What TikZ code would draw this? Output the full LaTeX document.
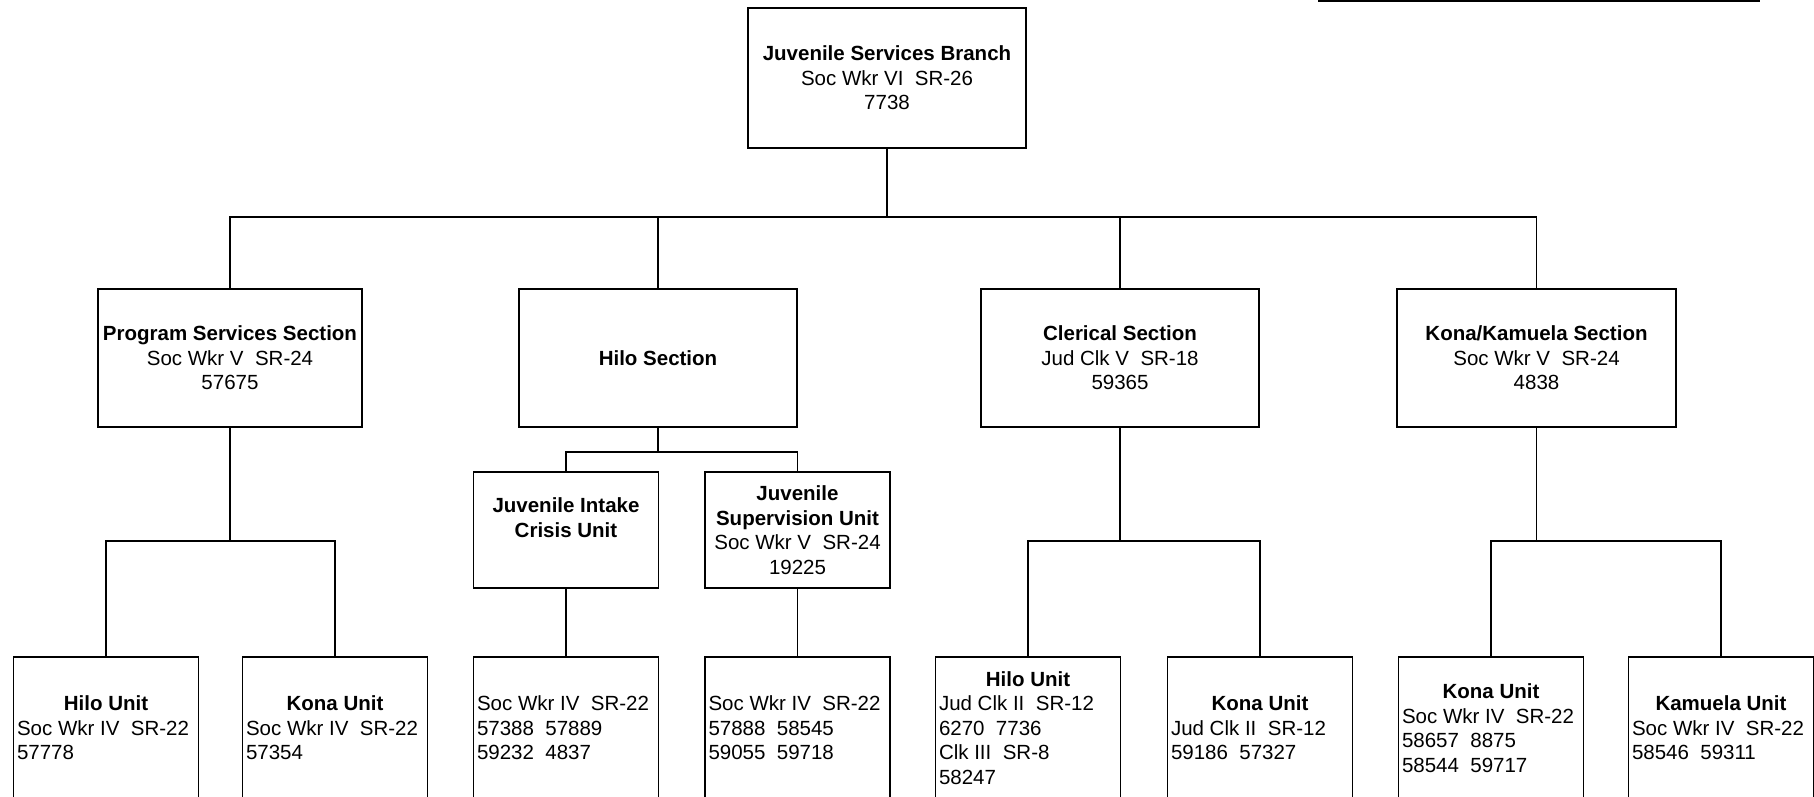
\documentclass[tikz,border=0pt]{standalone}
\usepackage{fontspec}
\setmainfont{Liberation Sans}
% centred bold heading / left-set first line inside a unit box
\newcommand\unittitle[1]{\makebox[178pt]{\bfseries #1}}
\newcommand\unitfirst[1]{\makebox[178pt][l]{#1}}
\begin{document}
\begin{tikzpicture}[x=1pt,y=-1pt,
  box/.style={draw=black, line width=1.5pt, inner sep=0pt, align=center,
              font=\fontsize{20.5}{24.5}\selectfont},
  section/.style={box, minimum width=278pt, minimum height=138pt},
  subunit/.style={box, minimum width=185pt, minimum height=116pt},
  unit/.style={box, align=left, minimum width=185pt, minimum height=142pt},
  link/.style={draw=black, line width=1.5pt},
]
\useasboundingbox (0,0) rectangle (1814,797);

% bus levels
\coordinate (busA) at (0,217);
\coordinate (busB) at (0,541);
\coordinate (busH) at (0,452);

% branch head
\node[box, minimum width=278pt, minimum height=140pt] (jsb) at (887,78)
  {\textbf{Juvenile Services Branch}\\Soc Wkr VI~~SR-26\\7738};

% sections
\node[section, minimum width=264pt] (ps) at (230,358)
  {\textbf{Program Services Section}\\Soc Wkr V~~SR-24\\57675};
\node[section] (hs) at (658,358) {\textbf{Hilo Section}};
\node[section] (cs) at (1120,358)
  {\textbf{Clerical Section}\\Jud Clk V~~SR-18\\59365};
\node[section, minimum width=279pt] (ks) at (1536.5,358)
  {\textbf{Kona/Kamuela Section}\\Soc Wkr V~~SR-24\\4838};

% Hilo section units
\node[subunit] (ji) at (566,530)
  {\textbf{Juvenile Intake}\\\textbf{Crisis Unit}\\\mbox{}};
\node[subunit] (jsu) at (797.5,530)
  {\textbf{Juvenile}\\\textbf{Supervision Unit}\\Soc Wkr V~~SR-24\\19225};

% units
\node[unit] (u1) at (106,728)
  {\unittitle{Hilo Unit}\\Soc Wkr IV~~SR-22\\57778};
\node[unit] (u2) at (335,728)
  {\unittitle{Kona Unit}\\Soc Wkr IV~~SR-22\\57354};
\node[unit] (u3) at (566,728)
  {\unitfirst{Soc Wkr IV~~SR-22}\\57388~~57889\\59232~~4837};
\node[unit] (u4) at (797.5,728)
  {\unitfirst{Soc Wkr IV~~SR-22}\\57888~~58545\\59055~~59718};
\node[unit] (u5) at (1028,728)
  {\unittitle{Hilo Unit}\\Jud Clk II~~SR-12\\6270~~7736\\Clk III~~SR-8\\58247};
\node[unit] (u6) at (1260,728)
  {\unittitle{Kona Unit}\\Jud Clk II~~SR-12\\59186~~57327};
\node[unit] (u7) at (1491,728)
  {\unittitle{Kona Unit}\\Soc Wkr IV~~SR-22\\58657~~8875\\58544~~59717};
\node[unit] (u8) at (1721,728)
  {\unittitle{Kamuela Unit}\\Soc Wkr IV~~SR-22\\58546~~59311};

% connectors: head to sections
\foreach \c in {ps,hs,cs,ks}
  \draw[link] (jsb.south) -- (jsb.south |- busA) -| (\c.north);

% sections to units
\foreach \p/\c in {ps/u1,ps/u2,cs/u5,cs/u6,ks/u7,ks/u8}
  \draw[link] (\p.south) -- (\p.south |- busB) -| (\c.north);

% Hilo section to its units
\foreach \c in {ji,jsu}
  \draw[link] (hs.south) -- (hs.south |- busH) -| (\c.north);
\draw[link] (ji.south) -- (u3.north);
\draw[link] (jsu.south) -- (u4.north);

% rule along the top edge
\draw[line width=2.5pt] (1318,1.2) -- (1760,1.2);
\end{tikzpicture}
\end{document}
